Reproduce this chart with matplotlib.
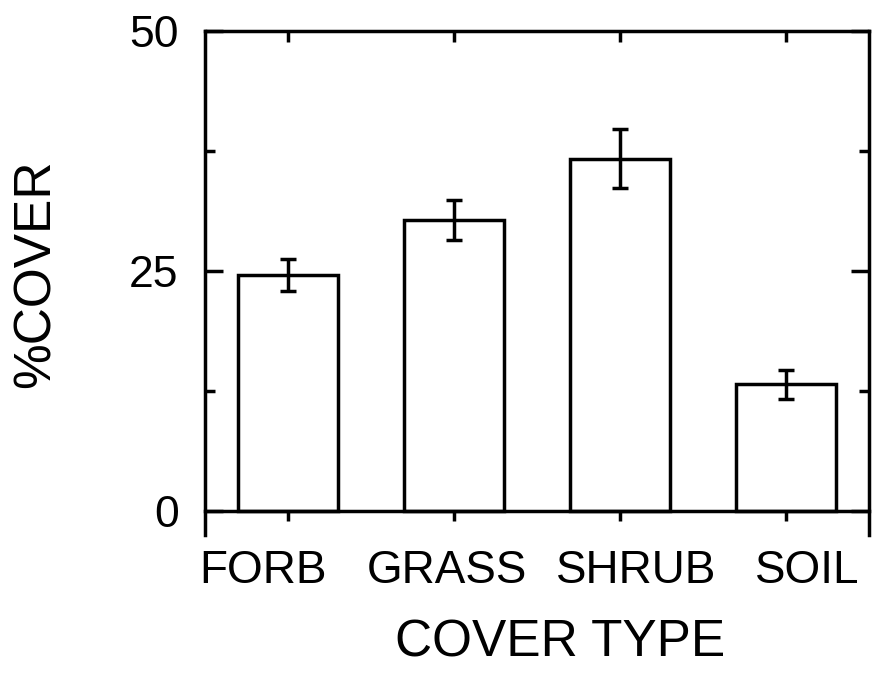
import matplotlib
matplotlib.use("Agg")
import matplotlib.pyplot as plt
import numpy as np

categories = ["FORB", "GRASS", "SHRUB", "SOIL"]
values = [24.6, 30.3, 36.7, 13.2]
errors = [1.7, 2.05, 3.1, 1.5]
label_x = [-0.15, -0.04, 0.10, 0.13]  # label offsets from bar centers (data units)
yticks = [0, 25, 50]
yminor = [12.5, 37.5]

plt.rcParams['font.family'] = ['Liberation Sans', 'DejaVu Sans']

fig = plt.figure(figsize=(8.72, 6.74), dpi=100)
ax = fig.add_axes([205/872, 1-535/674, (869-205)/872, (535-31)/674])

x = np.arange(len(categories))
lw = 2.5
ax.bar(x, values, width=0.6, color='white', edgecolor='black', linewidth=lw, zorder=2)
ax.errorbar(x, values, yerr=errors, fmt='none', ecolor='black', elinewidth=lw,
            capsize=5.8, capthick=lw, zorder=3)

ax.set_xlim(-0.5, 3.5)
ax.set_ylim(-2.5, 50)

for s in ax.spines.values():
    s.set_linewidth(lw)
ax.spines['bottom'].set_position(('data', 0))

ax.set_yticks(yticks)
ax.set_yticks(yminor, minor=True)
ax.set_yticklabels([str(v) for v in yticks], fontsize=32)
ax.tick_params(axis='y', which='major', direction='in', length=13, width=lw,
               right=True, pad=19)
ax.tick_params(axis='y', which='minor', direction='in', length=7, width=lw, right=True)

ax.set_xticks(x)
ax.set_xticklabels([])
ax.tick_params(axis='x', which='major', direction='inout', length=15, width=lw,
               top=False)
# top ticks
ax_top = ax.secondary_xaxis('top')
ax_top.set_xticks(x)
ax_top.set_xticklabels([])
ax_top.tick_params(direction='in', length=8, width=lw)
ax_top.spines['top'].set_visible(False)

for xi, off, lab in zip(x, label_x, categories):
    ax.text(xi + off, -4.0, lab, ha='center', va='top', fontsize=33,
            transform=ax.transData, clip_on=False)

fig.text(560/872, 1-643/674, "COVER TYPE", ha='center', va='center', fontsize=37)
fig.text(36/872, 1-274/674, "%COVER", ha='center', va='center', fontsize=37,
         rotation=90)

fig.savefig("out.png", dpi=100, facecolor='white')
